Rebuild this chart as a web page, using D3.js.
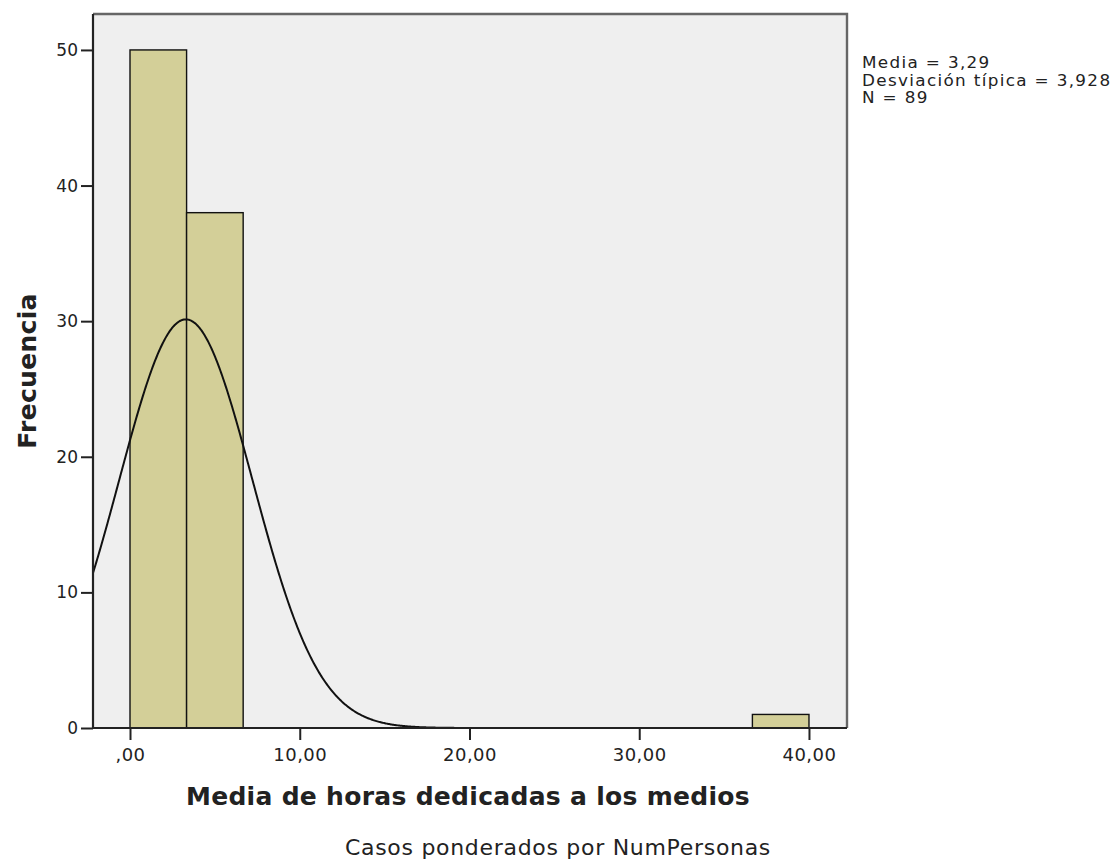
<!DOCTYPE html>
<html>
<head>
<meta charset="utf-8">
<script src="https://cdn.jsdelivr.net/npm/d3@7"></script>
<style>
  body { margin: 0; background: #fff; }
  svg text { font-family: "DejaVu Sans", Verdana, sans-serif; fill: #222; }
</style>
</head>
<body>
<svg id="chart" width="1114" height="861"></svg>
<script>
// Histogram bins (lower edge, upper edge) and counts
const binStarts = [0, 3.3333, 6.6667, 10, 13.3333, 16.6667, 20, 23.3333, 26.6667, 30, 33.3333, 36.6667];
const binEnds   = [3.3333, 6.6667, 10, 13.3333, 16.6667, 20, 23.3333, 26.6667, 30, 33.3333, 36.6667, 40];
const counts    = [50, 38, 0, 0, 0, 0, 0, 0, 0, 0, 0, 1];

// Summary statistics shown beside the plot
const statMean = 3.29;
const statSD = 3.928;
const statN = 89;
const statLines = ["Media = 3,29", "Desviación típica = 3,928", "N = 89"];

// Axis ticks
const xTicks = [0, 10, 20, 30, 40];
const xTickLabels = [",00", "10,00", "20,00", "30,00", "40,00"];
const yTicks = [0, 10, 20, 30, 40, 50];

const svg = d3.select("#chart");
const plotL = 93, plotR = 847, plotT = 14, plotB = 728;

const x = d3.scaleLinear().domain([-2.18, 42.24]).range([plotL, plotR]);
const y = d3.scaleLinear().domain([0, 52.65]).range([plotB, plotT]);

// Plot background
svg.append("rect")
  .attr("x", plotL).attr("y", plotT)
  .attr("width", plotR - plotL).attr("height", plotB - plotT)
  .attr("fill", "#efefef");

// Bars
const bins = counts.map((c, i) => ({ x0: binStarts[i], x1: binEnds[i], n: c }));
svg.append("g").selectAll("rect")
  .data(bins.filter(d => d.n > 0))
  .join("rect")
  .attr("x", d => x(d.x0))
  .attr("y", d => y(d.n))
  .attr("width", d => x(d.x1) - x(d.x0))
  .attr("height", d => y(0) - y(d.n))
  .attr("fill", "#d3cf98")
  .attr("stroke", "#111")
  .attr("stroke-width", 1.4);

// Fitted normal curve from the reported mean, SD and N
const binW = binEnds[0] - binStarts[0];
const normal = v => statN * binW / (statSD * Math.sqrt(2 * Math.PI)) *
  Math.exp(-0.5 * Math.pow((v - statMean) / statSD, 2));
const xs = d3.range(x.domain()[0], x.domain()[1], 0.05);
svg.append("path")
  .datum(xs)
  .attr("d", d3.line().x(v => x(v)).y(v => y(normal(v))))
  .attr("fill", "none")
  .attr("stroke", "#111")
  .attr("stroke-width", 2);

// Frame: gray top and right edges
svg.append("path")
  .attr("d", `M${plotL},${plotT}H${plotR}V${plotB}`)
  .attr("fill", "none")
  .attr("stroke", "#666")
  .attr("stroke-width", 2.4);

// Y axis
const yAxis = d3.axisLeft(y).tickValues(yTicks).tickSize(12).tickPadding(3).tickFormat(d3.format("d"));
const gy = svg.append("g").attr("transform", `translate(${plotL},0)`).call(yAxis);
gy.select(".domain").attr("stroke", "#222").attr("stroke-width", 2.2).attr("d", `M0,${plotT}V${plotB}`);
gy.selectAll(".tick line").attr("stroke", "#222").attr("stroke-width", 2);
gy.selectAll(".tick text").attr("font-size", 17).attr("fill", "#333");

// X axis
const xAxis = d3.axisBottom(x).tickValues(xTicks).tickSize(12).tickPadding(8)
  .tickFormat((d, i) => xTickLabels[i]);
const gx = svg.append("g").attr("transform", `translate(0,${plotB})`).call(xAxis);
gx.select(".domain").attr("stroke", "#222").attr("stroke-width", 2.2).attr("d", `M${plotL},0H${plotR}`);
gx.selectAll(".tick line").attr("stroke", "#222").attr("stroke-width", 2);
gx.selectAll(".tick text").attr("font-size", 18).attr("letter-spacing", 0.5).attr("fill", "#333");

// Axis titles
svg.append("text")
  .attr("transform", "translate(36,371) rotate(-90)")
  .attr("text-anchor", "middle")
  .attr("font-size", 25).attr("font-weight", "bold").attr("letter-spacing", 0.3)
  .text("Frecuencia");

svg.append("text")
  .attr("x", 468).attr("y", 805)
  .attr("text-anchor", "middle")
  .attr("font-size", 25).attr("font-weight", "bold").attr("letter-spacing", 0.3)
  .text("Media de horas dedicadas a los medios");

svg.append("text")
  .attr("x", 558).attr("y", 855)
  .attr("text-anchor", "middle")
  .attr("font-size", 22).attr("letter-spacing", 0.7)
  .text("Casos ponderados por NumPersonas");

// Statistics box (slightly widened glyphs)
const statScale = 1.12;
svg.append("g")
  .attr("transform", `translate(862,0) scale(${statScale},1)`)
  .selectAll("text")
  .data(statLines)
  .join("text")
  .attr("x", 0)
  .attr("y", (d, i) => 68 + i * 17.6)
  .attr("font-size", 15)
  .attr("letter-spacing", 1.2)
  .text(d => d);
</script>
</body>
</html>
